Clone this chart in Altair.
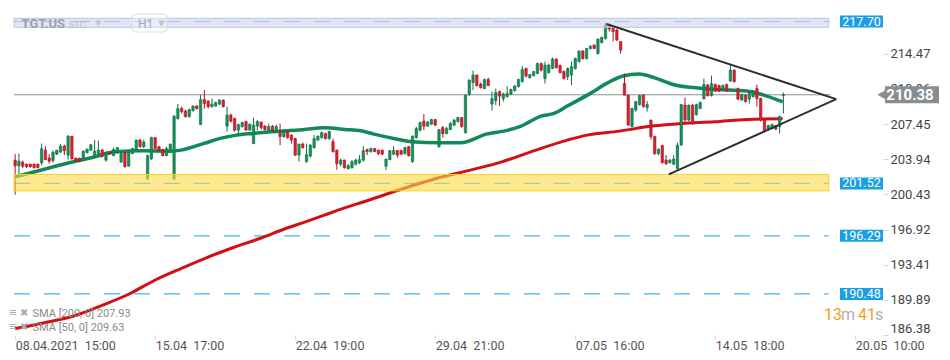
import altair as alt
import pandas as pd

# ---- hourly candles, index 0 = 08.04.2021 15:00 ----
opens = [203.85, 203.28, 203.65, 203.45, 203.45, 203.45, 203.45, 203.58, 204.85, 204.05,
         203.8, 204.45, 204.65, 205.25, 204.35, 206.25, 204.05, 204.05, 203.85, 204.6,
         204.85, 204.2, 204.5, 204.85, 203.85, 204.65, 204.3, 204.6, 203.65, 204.6,
         203.25, 204.5, 204.9, 205.85, 205.18, 202.0, 204.0, 206.1, 205.2, 204.9,
         204.3, 204.85, 202.0, 208.0, 209.0, 208.75, 208.2, 208.8, 209.25, 207.4,
         209.9, 209.75, 209.2, 209.25, 209.45, 209.85, 207.25, 208.35, 208.0, 206.85,
         207.2, 207.7, 206.85, 205.5, 207.25, 207.65, 207.25, 206.85, 207.25, 206.7,
         206.5, 206.2, 206.7, 206.35, 206.0, 204.35, 205.45, 203.7, 204.25, 205.1,
         205.85, 206.1, 206.5, 206.0, 205.7, 204.85, 203.45, 203.85, 203.0, 203.1,
         203.45, 203.6, 203.85, 204.9, 204.7, 205.0, 204.85, 204.85, 203.25, 203.9,
         204.45, 204.8, 204.8, 204.5, 205.2, 203.7, 206.1, 206.85, 207.75, 207.25,
         207.45, 207.9, 205.2, 207.1, 206.5, 206.9, 207.35, 207.7, 208.1, 206.6,
         210.45, 211.6, 212.35, 211.45, 211.0, 211.9, 209.45, 209.8, 210.7, 210.0,
         210.2, 210.45, 210.8, 211.2, 211.7, 213.0, 212.08, 212.3, 212.5, 213.5,
         212.0, 212.6, 213.0, 213.95, 213.3, 212.7, 212.2, 212.35, 213.0, 213.7,
         214.75, 214.0, 215.0, 215.35, 214.5, 215.6, 216.0, 217.35, 217.0, 216.85,
         215.7, 211.5, 210.35, 207.2, 208.85, 209.4, 210.35, 209.1, 207.85, 206.2,
         204.5, 205.3, 203.85, 203.6, 203.45, 203.0, 205.35, 209.35, 207.85, 209.35,
         208.4, 209.0, 210.0, 211.35, 210.3, 211.4, 211.3, 210.95, 211.4, 211.75,
         212.85, 211.0, 209.85, 210.35, 209.95, 210.2, 211.0, 210.0, 207.85, 206.95,
         207.0, 207.3, 207.2, 210.3]
highs = [204.45, 204.5, 203.8, 203.5, 203.5, 203.5, 203.5, 205.5, 205.25, 204.45,
         204.8, 204.85, 205.45, 205.4, 206.35, 206.25, 204.1, 204.1, 204.8, 205.0,
         205.4, 205.85, 205.8, 204.98, 204.7, 204.7, 205.1, 205.15, 204.6, 204.6,
         204.65, 205.1, 205.9, 205.98, 205.9, 204.4, 206.2, 206.15, 205.25, 204.98,
         205.2, 205.5, 208.35, 209.45, 209.2, 208.9, 209.0, 209.35, 209.35, 210.35,
         210.85, 209.85, 210.0, 209.7, 209.95, 209.9, 209.2, 208.5, 208.1, 207.5,
         207.7, 207.8, 207.5, 208.1, 207.85, 207.7, 207.35, 207.5, 207.35, 207.4,
         207.5, 206.9, 206.8, 206.45, 206.1, 205.5, 205.6, 205.5, 205.45, 206.35,
         206.3, 206.7, 206.6, 206.8, 206.0, 204.9, 203.98, 203.9, 203.45, 203.85,
         204.0, 204.35, 205.25, 205.0, 205.1, 205.05, 204.9, 204.9, 204.0, 204.85,
         205.25, 204.85, 204.9, 205.2, 205.25, 206.3, 207.2, 207.7, 208.45, 207.75,
         207.98, 207.98, 206.95, 207.25, 207.2, 207.7, 207.98, 208.2, 208.15, 210.4,
         211.9, 212.8, 212.4, 211.6, 212.0, 212.1, 210.7, 211.0, 210.8, 210.6,
         211.25, 211.0, 211.35, 212.0, 213.25, 213.1, 212.45, 212.75, 213.6, 213.6,
         213.7, 213.5, 214.1, 214.0, 213.4, 212.8, 213.1, 213.7, 214.1, 214.8,
         214.85, 215.05, 215.35, 215.4, 216.0, 216.2, 217.6, 217.5, 217.2, 216.95,
         215.75, 212.5, 210.35, 209.1, 209.75, 210.4, 210.4, 209.75, 207.9, 206.3,
         205.0, 205.4, 204.35, 203.95, 204.35, 205.6, 209.45, 210.1, 209.4, 209.45,
         209.5, 209.7, 212.0, 211.45, 212.3, 211.5, 211.4, 211.4, 211.5, 213.35,
         212.9, 211.1, 210.5, 210.4, 210.6, 210.85, 211.4, 210.1, 207.9, 207.4,
         207.5, 207.35, 208.3, 210.6]
lows = [200.4, 202.35, 203.05, 203.05, 203.1, 203.0, 203.05, 203.35, 203.85, 203.5,
        203.6, 204.35, 204.6, 204.35, 203.9, 203.9, 203.65, 203.65, 203.8, 204.5,
        204.75, 204.1, 204.35, 204.1, 203.7, 204.4, 204.25, 204.5, 203.6, 203.1,
        203.2, 204.45, 204.85, 205.1, 205.05, 201.85, 203.85, 204.95, 204.72, 204.25,
        204.25, 204.8, 201.85, 207.9, 208.5, 208.1, 208.1, 208.7, 208.9, 207.35,
        209.0, 209.0, 209.1, 209.2, 209.35, 209.1, 206.7, 207.6, 206.7, 206.5,
        207.1, 206.8, 206.8, 205.45, 206.85, 206.9, 206.8, 206.8, 206.7, 206.6,
        205.35, 206.1, 206.0, 205.5, 204.25, 203.7, 205.0, 203.6, 204.1, 205.0,
        205.8, 206.0, 205.9, 205.9, 204.6, 202.9, 203.25, 203.0, 202.9, 203.0,
        203.3, 203.45, 203.7, 204.35, 204.6, 204.65, 204.35, 204.35, 202.85, 203.85,
        204.35, 204.1, 204.35, 204.4, 204.2, 203.6, 206.0, 206.7, 206.85, 207.2,
        207.35, 207.25, 205.1, 206.1, 206.45, 206.85, 207.25, 207.6, 207.1, 206.5,
        210.25, 210.85, 211.2, 211.0, 210.95, 211.25, 208.8, 209.35, 209.25, 209.7,
        210.1, 210.35, 210.7, 211.1, 211.6, 212.1, 212.0, 212.2, 212.45, 212.7,
        211.5, 212.5, 212.95, 213.0, 212.5, 211.9, 211.85, 211.35, 212.9, 213.6,
        213.9, 213.9, 214.9, 214.95, 214.4, 215.5, 215.9, 216.7, 215.7, 215.75,
        214.5, 210.3, 207.3, 207.1, 208.7, 209.3, 209.1, 208.7, 205.9, 204.4,
        204.35, 203.5, 203.35, 203.5, 203.35, 202.95, 205.3, 207.7, 207.75, 207.4,
        208.3, 208.95, 209.9, 210.2, 210.2, 210.65, 210.65, 210.85, 210.65, 211.7,
        211.6, 209.85, 209.8, 209.6, 209.5, 210.1, 209.2, 207.7, 206.6, 206.75,
        206.9, 206.85, 206.5, 208.5]
closes = [203.28, 203.75, 203.25, 203.2, 203.2, 203.1, 203.1, 205.0, 203.9, 203.75,
          204.65, 204.85, 205.25, 204.8, 206.25, 203.98, 203.75, 203.75, 204.75, 204.95,
          205.4, 204.75, 204.85, 204.25, 204.65, 204.45, 204.9, 205.1, 204.5, 203.2,
          204.6, 205.0, 205.85, 205.2, 205.65, 204.3, 206.1, 205.0, 204.8, 204.3,
          205.0, 205.45, 208.25, 209.0, 208.7, 208.2, 208.9, 209.25, 209.0, 209.9,
          209.5, 209.2, 209.45, 209.6, 209.85, 209.2, 208.35, 207.75, 206.85, 207.4,
          207.6, 206.85, 207.45, 207.35, 207.7, 207.1, 206.9, 207.2, 206.8, 207.2,
          206.2, 206.85, 206.1, 205.85, 204.35, 205.45, 205.1, 204.4, 205.35, 206.0,
          206.25, 206.6, 206.0, 206.7, 204.7, 203.5, 203.85, 203.1, 203.3, 203.7,
          203.85, 203.9, 204.8, 204.7, 205.0, 204.7, 204.5, 204.45, 203.95, 204.8,
          204.8, 204.35, 204.45, 205.1, 204.3, 206.25, 207.0, 207.6, 207.25, 207.65,
          207.9, 207.35, 206.9, 206.5, 207.0, 207.5, 207.85, 208.1, 207.2, 210.35,
          211.85, 212.35, 211.3, 211.1, 211.9, 211.3, 210.0, 210.6, 210.25, 210.45,
          210.5, 210.9, 211.25, 211.9, 212.9, 212.25, 212.4, 212.7, 213.5, 212.85,
          213.35, 213.35, 213.95, 213.1, 212.6, 212.0, 213.0, 213.2, 214.0, 214.75,
          214.0, 215.0, 215.2, 215.0, 215.95, 216.1, 217.35, 216.95, 216.7, 215.85,
          214.85, 210.35, 207.35, 209.0, 209.7, 210.3, 209.2, 209.4, 206.2, 204.5,
          204.95, 203.6, 203.5, 203.85, 203.95, 205.35, 209.4, 207.85, 209.35, 207.5,
          209.4, 209.6, 211.4, 210.3, 211.5, 210.75, 210.75, 211.3, 210.75, 212.85,
          211.7, 209.95, 210.4, 209.7, 210.5, 210.75, 210.0, 207.85, 206.75, 207.3,
          207.4, 206.95, 208.2, 210.38]

# ---- moving averages (read at points along the drawn curves) ----
sma50_idx = [0, 7.5, 13.5, 20.4, 26.5, 33.8, 41.2, 43.8, 49.9, 54.2, 58.5, 62.8, 67.6,
             74.9, 81.9, 87.1, 91.4, 94.8, 101.3, 104.8, 111.7, 117.7, 124.5, 130.3,
             133.7, 139, 142.4, 145.9, 152, 156.3, 160.6, 164.9, 169.2, 174.4, 180.5,
             184.8, 193.4, 197.8, 202.8]
sma50_val = [202.18, 202.92, 203.52, 204.12, 204.68, 204.78, 204.75, 204.85, 205.52,
             206.02, 206.35, 206.52, 206.68, 206.85, 207.08, 206.92, 206.78, 206.45,
             205.92, 205.68, 205.58, 205.58, 206.45, 206.85, 207.25, 208.25, 208.52,
             209.25, 210.52, 211.52, 212.25, 212.45, 212.05, 211.35, 211.05, 210.92,
             210.75, 210.35, 209.68]
sma200_idx = [0, 7.5, 16.1, 23, 30, 36.9, 43.8, 50.7, 57.7, 64.6, 71.5, 76.7, 81.7,
              85.3, 94, 102.6, 111.3, 120.8, 128.6, 137.2, 145.9, 151.1, 159.7, 168.3,
              176.1, 184.8, 193.4, 202.8]
sma200_val = [187.02, 187.58, 188.35, 189.35, 190.45, 191.85, 193.02, 194.12, 195.12,
              196.02, 197.02, 197.68, 198.35, 198.85, 199.92, 201.02, 202.02, 202.9,
              203.68, 204.8, 205.85, 206.35, 206.75, 207.25, 207.52, 207.68, 207.92,
              207.98]

# ---- levels, triangle, labels ----
level_values = [217.70, 201.52, 196.29, 190.48]
last_price = 210.38
band_top = [217.12, 218.02]
band_support = [200.78, 202.42]
tri_seg = ["upper", "upper", "lower", "lower"]
tri_idx = [156.25, 216.97, 172.7, 216.97]
tri_val = [217.45, 209.95, 202.42, 209.95]

x_ticks = [0, 37, 74, 111, 148, 185, 222]
x_labels = ["08.04.2021  15:00", "15.04  17:00", "22.04  19:00", "29.04  21:00",
            "07.05  16:00", "14.05  18:00", "20.05  10:00"]
y_ticks = [186.38, 189.89, 193.41, 196.92, 200.43, 203.94, 207.45, 210.96, 214.47]
sma_legend = ["SMA [200, 0]  207.93", "SMA [50, 0]  209.63"]

FONT = "Roboto"
GREEN, GREEN_D = "#17905b", "#0b6e42"
RED, RED_D = "#dd2030", "#a8101e"
BLUE = "#1a9fe6"
DASH = "#45b6ee"
X_END = 215.0

label_list = ",".join("'" + l.replace(" ", "\u00a0") + "'" for l in x_labels)
xs = alt.Scale(domain=[-0.3, 228], nice=False, zero=False)
ys = alt.Scale(domain=[186.38, 219.05], nice=False, zero=False)
xaxis = alt.Axis(values=x_ticks, labelExpr="[" + label_list + "][round(datum.value/37)]",
                 title=None, domain=False, grid=False, tickSize=4, tickColor="#d8d8d8",
                 labelColor="#555555", labelFont=FONT, labelFontSize=12.5, labelAlign="left",
                 labelPadding=0, labelFlush=False, labelOverlap=False)
yaxis = alt.Axis(orient="right", values=y_ticks, format=".2f", title=None, domain=False,
                 grid=False, tickSize=5, tickColor="#d8d8d8", labelColor="#444444",
                 labelFont=FONT, labelFontSize=13, labelPadding=2, labelFlush=True,
                 labelOverlap=False)


def X(f):
    return alt.X(f, type="quantitative", scale=xs, axis=xaxis)


def Y(f):
    return alt.Y(f, type="quantitative", scale=ys, axis=yaxis)


n = len(opens)
cdf = pd.DataFrame({"i": list(range(n)), "o": opens, "h": highs, "l": lows, "c": closes})
cdf["dir"] = ["up" if c >= o else "down" for o, c in zip(opens, closes)]
cdf["bot"] = cdf[["o", "c"]].min(axis=1)
cdf["top"] = [max(a, b + 0.06) for a, b in zip(cdf[["o", "c"]].max(axis=1), cdf["bot"])]

dir_fill = alt.Scale(domain=["up", "down"], range=[GREEN, RED])
dir_line = alt.Scale(domain=["up", "down"], range=[GREEN_D, RED_D])

levels = pd.DataFrame({"v": level_values, "x0": -0.3, "x1": X_END})
levels["hi"] = levels["v"] + 0.6
levels["lo"] = levels["v"] - 0.6
levels["t"] = [f"{v:.2f}" for v in level_values]

dashed = alt.Chart(levels).mark_rule(strokeDash=[16, 14], strokeWidth=1.2, color=DASH).encode(
    x=X("x0"), x2="x1", y=Y("v"))

price_df = pd.DataFrame({"v": [last_price], "x0": [-0.3], "x1": [X_END + 0.5]})
price_line = alt.Chart(price_df).mark_rule(color="#8a8f94", strokeWidth=1).encode(
    x=X("x0"), x2="x1", y=Y("v"))

s200 = alt.Chart(pd.DataFrame({"i": sma200_idx, "v": sma200_val})).mark_line(
    color="#d10f14", strokeWidth=3, interpolate="monotone").encode(x=X("i"), y=Y("v"))
s50 = alt.Chart(pd.DataFrame({"i": sma50_idx, "v": sma50_val})).mark_line(
    color="#118a57", strokeWidth=3.5, interpolate="monotone").encode(x=X("i"), y=Y("v"))

wicks = alt.Chart(cdf).mark_rule(strokeWidth=1).encode(
    x=X("i"), y=Y("l"), y2="h",
    color=alt.Color("dir:N", scale=dir_line, legend=None))
bodies = alt.Chart(cdf).mark_bar(size=2.4, strokeWidth=0.6).encode(
    x=X("i"), y=Y("bot"), y2="top",
    fill=alt.Fill("dir:N", scale=dir_fill, legend=None),
    stroke=alt.Stroke("dir:N", scale=dir_line, legend=None))

top_band = alt.Chart(pd.DataFrame({"x0": [-0.3], "x1": [X_END], "lo": [band_top[0]],
                                   "hi": [band_top[1]]})).mark_rect(
    fill="#d0d2eb", fillOpacity=0.6, stroke="#bfc3e3", strokeWidth=1).encode(
    x=X("x0"), x2="x1", y=Y("lo"), y2="hi")
sup_band = alt.Chart(pd.DataFrame({"x0": [-0.3], "x1": [X_END], "lo": [band_support[0]],
                                   "hi": [band_support[1]]})).mark_rect(
    fill="#fada44", fillOpacity=0.6, stroke="#f7d21b", strokeWidth=1).encode(
    x=X("x0"), x2="x1", y=Y("lo"), y2="hi")

tri = alt.Chart(pd.DataFrame({"s": tri_seg, "i": tri_idx, "v": tri_val})).mark_line(
    color="#2d2d2d", strokeWidth=2).encode(x=X("i"), y=Y("v"), detail="s:N")

lbl_box = alt.Chart(levels).mark_rect(color=BLUE).encode(
    x=alt.value(831), x2=alt.value(874), y=Y("lo"), y2="hi")
lbl_txt = alt.Chart(levels).mark_text(color="white", font=FONT, fontSize=12.5, align="center",
                                      baseline="middle").encode(
    x=alt.value(852.5), y=Y("v"), text="t:N")

pdf = pd.DataFrame({"v": [last_price], "lo": [last_price - 0.85], "hi": [last_price + 0.85],
                    "t": [f"{last_price:.2f}"]})
p_box = alt.Chart(pdf).mark_rect(color="#878d91").encode(
    x=alt.value(876), x2=alt.value(930), y=Y("lo"), y2="hi")
p_arrow = alt.Chart(pdf).mark_point(shape="triangle-left", filled=True, color="#878d91",
                                    size=110, opacity=1).encode(x=alt.value(873), y=Y("v"))
p_txt = alt.Chart(pdf).mark_text(color="white", font=FONT, fontSize=15, fontWeight="bold",
                                 align="center", baseline="middle").encode(
    x=alt.value(901), y=Y("v"), text="t:N")


def txt(t, x, y, size=11, color="#888888", weight="normal", align="left"):
    return alt.Chart(pd.DataFrame({"t": [t]})).mark_text(
        font=FONT, fontSize=size, color=color, fontWeight=weight, align=align,
        baseline="middle").encode(x=alt.value(x), y=alt.value(y), text="t:N")


h1_box = alt.Chart(pd.DataFrame({"a": [0]})).mark_rect(
    fill="white", fillOpacity=0.3, stroke="#dcdcdc", strokeWidth=1.2, cornerRadius=4).encode(
    x=alt.value(123), x2=alt.value(158), y=alt.value(6), y2=alt.value(24))

overlay = [
    txt("TGT.US", 12.5, 15.5, 13, "#9ca1a8", "bold"),
    txt("STC", 60, 17, 9, "#b7bbc0"),
    txt("▾", 86, 15, 13, "#c3c6ca"),
    h1_box,
    txt("H1", 129, 15.5, 12, "#a5a9ae"),
    txt("▾", 149, 15, 13, "#c3c6ca"),
    txt("≡", 0, 305, 13, "#aaaaaa", "bold"),
    txt("✖", 11, 305, 10, "#aaaaaa"),
    txt(sma_legend[0], 23.5, 305.5, 11, "#8a8a8a"),
    txt("≡", 0, 319, 13, "#aaaaaa", "bold"),
    txt("✖", 11, 319, 10, "#aaaaaa"),
    txt(sma_legend[1], 23.5, 319.5, 11, "#8a8a8a"),
    txt("13", 815, 307, 16, "#f5a01a"),
    txt("m", 832, 307, 16, "#b0b0b0"),
    txt("41", 849, 307, 16, "#f5a01a"),
    txt("s", 866, 307, 16, "#b0b0b0"),
]

chart = alt.layer(
    dashed, price_line, s200, s50, wicks, bodies, top_band, sup_band, tri,
    lbl_box, lbl_txt, p_box, p_arrow, p_txt, *overlay
).properties(width=874, height=327, padding=0, background="white").configure_view(stroke=None)

chart.save("out.html", embed_options={"renderer": "svg", "actions": False})
